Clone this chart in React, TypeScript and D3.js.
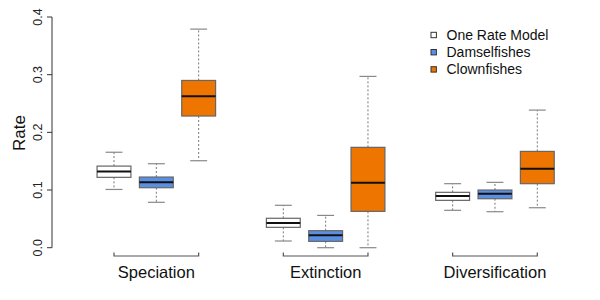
import React from "react";
import * as d3 from "d3";

const categories = ["Speciation", "Extinction", "Diversification"];
const seriesNames = ["One Rate Model", "Damselfishes", "Clownfishes"];
const seriesColors = ["#ffffff", "#5b8fe3", "#ee7600"];

// stats per series per category: [whiskerLow, q1, median, q3, whiskerHigh]
const oneRate = [
  [0.101, 0.122, 0.132, 0.1415, 0.1655],
  [0.0116, 0.0353, 0.0428, 0.051, 0.0735],
  [0.0648, 0.0821, 0.0896, 0.096, 0.111],
];
const damselfishes = [
  [0.0787, 0.104, 0.1133, 0.1225, 0.1456],
  [0.0, 0.011, 0.0215, 0.0295, 0.056],
  [0.0624, 0.0849, 0.0936, 0.1, 0.1133],
];
const clownfishes = [
  [0.1508, 0.2283, 0.2624, 0.29, 0.379],
  [0.0, 0.063, 0.1127, 0.174, 0.297],
  [0.0693, 0.111, 0.1369, 0.167, 0.2386],
];
const seriesData = [oneRate, damselfishes, clownfishes];
const yTicks = [0, 0.1, 0.2, 0.3, 0.4];

const FONT = "'Liberation Sans', Arial, Helvetica, sans-serif";

export default function App() {
  const W = 600, H = 300;
  const y = d3.scaleLinear().domain([0, 0.4]).range([247.7, 17]);
  const x = d3.scaleLinear().domain([1, 11]).range([114, 537.3]);
  const unit = x(2) - x(1);
  const boxW = unit * 0.8;
  const capW = boxW / 2;

  const boxes: React.ReactNode[] = [];
  categories.forEach((cat, ci) => {
    seriesData.forEach((s, si) => {
      const pos = ci * 4 + si + 1;
      const cx = x(pos);
      const [lo, q1, med, q3, hi] = s[ci];
      boxes.push(
        <g key={`${ci}-${si}`}>
          <line x1={cx} x2={cx} y1={y(q3)} y2={y(hi)} stroke="#777" strokeWidth={1} strokeDasharray="2,2" />
          <line x1={cx} x2={cx} y1={y(q1)} y2={y(lo)} stroke="#777" strokeWidth={1} strokeDasharray="2,2" />
          <line x1={cx - capW / 2} x2={cx + capW / 2} y1={y(hi)} y2={y(hi)} stroke="#888" strokeWidth={1.2} />
          <line x1={cx - capW / 2} x2={cx + capW / 2} y1={y(lo)} y2={y(lo)} stroke="#888" strokeWidth={1.2} />
          <rect x={cx - boxW / 2} y={y(q3)} width={boxW} height={y(q1) - y(q3)} fill={seriesColors[si]} stroke="#666" strokeWidth={1.2} />
          <line x1={cx - boxW / 2} x2={cx + boxW / 2} y1={y(med)} y2={y(med)} stroke="#111" strokeWidth={2} />
        </g>
      );
    });
  });

  return (
    <svg width={W} height={H} style={{ display: "block", position: "absolute", left: 0, top: 0 }} fontFamily={FONT}>
      <rect width={W} height={H} fill="#fff" />
      {/* y axis */}
      <line x1={52} x2={52} y1={y(0)} y2={y(0.4)} stroke="#333" strokeWidth={1} />
      {yTicks.map((t) => (
        <g key={t}>
          <line x1={47} x2={52} y1={y(t)} y2={y(t)} stroke="#333" strokeWidth={1} />
          <text transform={`translate(42,${y(t)}) rotate(-90)`} textAnchor="middle" fontSize={12.5} fill="#222">
            {d3.format(".1f")(t)}
          </text>
        </g>
      ))}
      <text transform={`translate(25,133) rotate(-90)`} textAnchor="middle" fontSize={17} fill="#111">Rate</text>
      {boxes}
      {/* category brackets */}
      {categories.map((cat, ci) => {
        const a = x(ci * 4 + 1), b = x(ci * 4 + 3);
        return (
          <g key={cat}>
            <path d={`M${a},252.5 V256 H${b} V252.5`} fill="none" stroke="#555" strokeWidth={1.2} />
            <text x={(a + b) / 2} y={277.5} textAnchor="middle" fontSize={16.5} fill="#111">{cat}</text>
          </g>
        );
      })}
      {/* legend */}
      {seriesNames.map((n, i) => {
        const cy = 35 + i * 17.2;
        return (
          <g key={n}>
            <rect x={431} y={cy - 2.7} width={5.4} height={5.4} fill={seriesColors[i]} stroke="#333" strokeWidth={1} />
            <text x={446.5} y={cy + 5} fontSize={14} fill="#111">{n}</text>
          </g>
        );
      })}
    </svg>
  );
}
